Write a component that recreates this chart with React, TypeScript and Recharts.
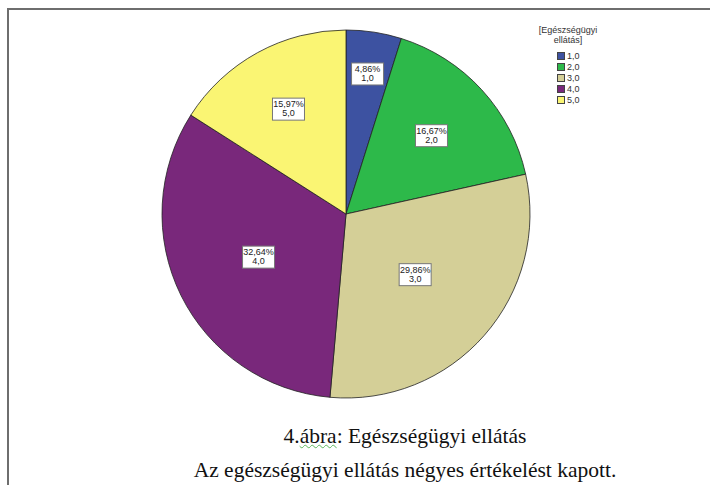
import React from 'react';
import { PieChart, Pie, Cell } from 'recharts';

const categories = ['1,0', '2,0', '3,0', '4,0', '5,0'];
const percents = [4.86, 16.67, 29.86, 32.64, 15.97];
const percentLabels = ['4,86%', '16,67%', '29,86%', '32,64%', '15,97%'];
const colors = ['#3d52a1', '#2db94a', '#d4cf97', '#79287b', '#faf573'];

// how far out each value box sits, as a share of the radius (SPSS places them unevenly)
const labelRadius = [0.77, 0.63, 0.5, 0.53, 0.65];

const data = categories.map((name, i) => ({ name, value: percents[i], pct: percentLabels[i] }));

const RAD = Math.PI / 180;
const sans = 'Liberation Sans, Arial, sans-serif';
const serif = '"Liberation Serif", "Times New Roman", serif';

const renderLabel = (props: any) => {
  const { cx, cy, midAngle, outerRadius, index } = props;
  const r = outerRadius * labelRadius[index];
  const x = cx + r * Math.cos(-midAngle * RAD);
  const y = cy + r * Math.sin(-midAngle * RAD);
  const w = 32;
  const h = 22;
  return (
    <g>
      <rect x={x - w / 2} y={y - h / 2} width={w} height={h} fill="#fff" stroke="#777" strokeWidth={1} />
      <text x={x} y={y - 2} textAnchor="middle" fontSize={9} fill="#222" fontFamily={sans}>
        {data[index].pct}
      </text>
      <text x={x} y={y + 7} textAnchor="middle" fontSize={9} fill="#222" fontFamily={sans}>
        {data[index].name}
      </text>
    </g>
  );
};

function PieLegend() {
  return (
    <div style={{ position: 'absolute', left: 528, top: 25, width: 80, fontFamily: sans, fontSize: 9, color: '#333' }}>
      <div style={{ textAlign: 'center', lineHeight: '10px' }}>
        [Egészségügyi
        <br />
        ellátás]
      </div>
      <div style={{ marginTop: 5, marginLeft: 29 }}>
        {categories.map((c, i) => (
          <div key={c} style={{ display: 'flex', alignItems: 'center', height: 11 }}>
            <span
              style={{
                display: 'inline-block',
                width: 6,
                height: 6,
                background: colors[i],
                border: '1px solid #444',
                marginRight: 2,
              }}
            />
            <span>{c}</span>
          </div>
        ))}
      </div>
    </div>
  );
}

const captionStyle: React.CSSProperties = {
  position: 'absolute',
  left: 0,
  width: 810,
  textAlign: 'center',
  fontFamily: serif,
  fontSize: 21.5,
  lineHeight: '25px',
  color: '#111',
};

export default function App() {
  return (
    <div style={{ position: 'absolute', left: 0, top: 0, width: 710, height: 485, background: '#fff', overflow: 'hidden' }}>
      <div style={{ position: 'absolute', left: 7, top: 8, width: 703, height: 2, background: '#6e6e6e' }} />
      <div style={{ position: 'absolute', left: 7, top: 8, width: 2, height: 477, background: '#6e6e6e' }} />
      <div style={{ position: 'absolute', left: 0, top: 0 }}>
        <PieChart width={710} height={420} margin={{ top: 0, right: 0, bottom: 0, left: 0 }}>
          <Pie
            data={data}
            dataKey="value"
            nameKey="name"
            cx={346}
            cy={214}
            outerRadius={184}
            startAngle={90}
            endAngle={-270}
            stroke="#222"
            strokeWidth={0.8}
            label={renderLabel}
            labelLine={false}
            isAnimationActive={false}
          >
            {data.map((d, i) => (
              <Cell key={d.name} fill={colors[i]} />
            ))}
          </Pie>
        </PieChart>
      </div>
      <PieLegend />
      <div style={{ ...captionStyle, top: 424 }}>
        4.<span style={{ textDecoration: 'underline wavy #5cb85c', textDecorationThickness: 1 }}>ábra</span>: Egészségügyi ellátás
      </div>
      <div style={{ ...captionStyle, top: 458 }}>Az egészségügyi ellátás négyes értékelést kapott.</div>
    </div>
  );
}
